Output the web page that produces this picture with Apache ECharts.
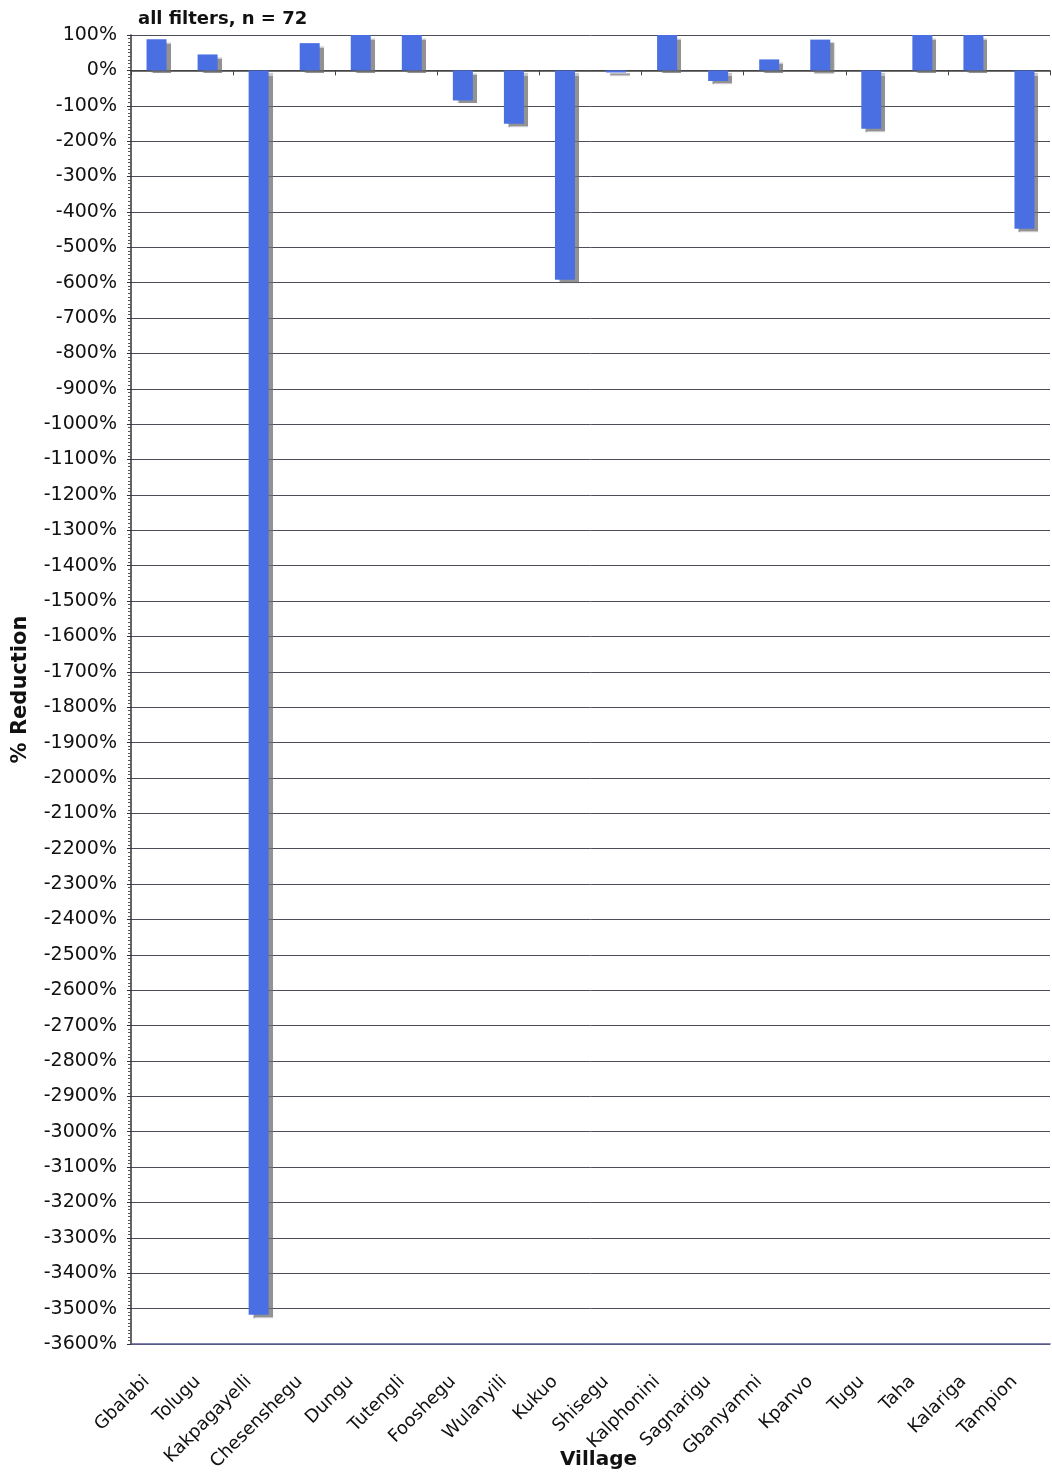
<!DOCTYPE html>
<html><head><meta charset="utf-8">
<script src="https://cdn.jsdelivr.net/npm/echarts@6/dist/echarts.min.js"></script>
<style>html,body{margin:0;padding:0;background:#fff}#c{width:1052px;height:1473px}</style>
</head><body><div id="c"></div>
<script>
const villages = ["Gbalabi","Tolugu","Kakpagayelli","Chesenshegu","Dungu","Tutengli","Fooshegu","Wulanyili","Kukuo","Shisegu","Kalphonini","Sagnarigu","Gbanyamni","Kpanvo","Tugu","Taha","Kalariga","Tampion"];
const reduction = [88,45,-3517,77,100,100,-85,-151,-592,-6,100,-30,31,87,-165,100,100,-448];
const yMin = -3600, yMax = 100, yStep = 100;
const titleText = "all filters, n = 72";
const yName = "% Reduction";
const xName = "Village";

const font = "DejaVu Sans";
const chart = echarts.init(document.getElementById('c'));
chart.setOption({
  animation: false,
  title: {text: titleText, left: 133, top: 5, textStyle: {fontFamily: font, fontWeight: 'bold', fontSize: 18, color: '#111'}},
  grid: {left: 131, right: 2, top: 35, bottom: 129, containLabel: false, outerBoundsMode: 'none'},
  xAxis: [{
    type: 'category', data: villages, position: 'bottom',
    axisLine: {onZero: false, lineStyle: {color: '#5a5a96', width: 1.5}},
    axisTick: {show: false},
    axisLabel: {rotate: 45, fontFamily: font, fontSize: 18, color: '#111', margin: 25, interval: 0, padding: [0, 14, 0, 0]},
    name: xName, nameLocation: 'middle', nameGap: 106, nameMoveOverlap: false,
    nameTextStyle: {fontFamily: font, fontWeight: 'bold', fontSize: 20, color: '#111', padding: [0, 0, 0, 16]}
  }, {
    type: 'category', data: villages, position: 'bottom',
    axisLine: {onZero: true, lineStyle: {color: '#444', width: 1.5}},
    axisTick: {show: true, length: 5, lineStyle: {color: '#444'}},
    axisLabel: {show: false}
  }],
  yAxis: {
    type: 'value', min: yMin, max: yMax, interval: yStep,
    axisLine: {show: true, lineStyle: {color: '#333', width: 1.5}},
    axisTick: {show: true, length: 4, lineStyle: {color: '#333'}},
    minorTick: {show: true, splitNumber: 10, length: 3, lineStyle: {color: '#555'}},
    axisLabel: {formatter: v => v + '%', fontFamily: font, fontSize: 19, color: '#111', margin: 14},
    splitLine: {show: true, lineStyle: {color: '#4d4d5a', width: 1}},
    name: yName, nameLocation: 'middle', nameGap: 100, nameRotate: 90, nameMoveOverlap: false,
    nameTextStyle: {fontFamily: font, fontWeight: 'bold', fontSize: 21, color: '#111'}
  },
  series: [{
    type: 'bar', data: reduction, xAxisIndex: 0, barWidth: 20,
    itemStyle: {color: '#4a6fe3', shadowColor: 'rgba(110,110,110,0.75)', shadowOffsetX: 4, shadowOffsetY: 3, shadowBlur: 1}
  }]
});
</script></body></html>
